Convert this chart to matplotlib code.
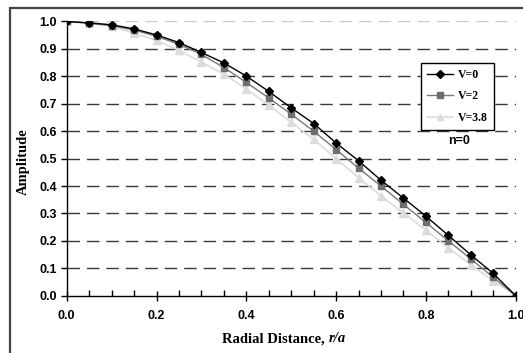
import matplotlib
matplotlib.use("Agg")
import matplotlib.pyplot as plt
from matplotlib.patches import Rectangle
from matplotlib.ticker import MultipleLocator

# radial positions and amplitude for each V
r = [0.0, 0.05, 0.1, 0.15, 0.2, 0.25, 0.3, 0.35, 0.4, 0.45, 0.5,
     0.55, 0.6, 0.65, 0.7, 0.75, 0.8, 0.85, 0.9, 0.95, 1.0]
amp_v0 = [1.0, 0.995, 0.988, 0.973, 0.951, 0.923, 0.887, 0.849, 0.801, 0.745, 0.685,
          0.628, 0.557, 0.492, 0.421, 0.356, 0.290, 0.220, 0.149, 0.081, 0.0]
amp_v2 = [1.0, 0.994, 0.985, 0.969, 0.946, 0.917, 0.880, 0.832, 0.778, 0.721, 0.662,
          0.600, 0.533, 0.465, 0.400, 0.333, 0.267, 0.200, 0.134, 0.067, 0.0]
amp_v38 = [1.0, 0.993, 0.982, 0.958, 0.931, 0.895, 0.852, 0.808, 0.754, 0.695, 0.632,
           0.570, 0.500, 0.431, 0.363, 0.302, 0.239, 0.175, 0.112, 0.055, 0.0]
labels = ["V=0", "V=2", "V=3.8"]

SANS = "Liberation Sans"
SERIF = "Liberation Serif"

fig = plt.figure(figsize=(5.23, 3.53), dpi=100)
ax = fig.add_axes([66.7 / 523, 1 - 295.7 / 353, (515.7 - 66.7) / 523, (295.7 - 21.5) / 353])

# outer chart frame (runs off the right / bottom edge)
fig.patches.append(Rectangle((10 / 523, -0.1), 1.2, 1 - 8 / 353 + 0.1, transform=fig.transFigure,
                             fill=False, edgecolor="#444444", linewidth=1.6, zorder=0))

ax.plot(r, amp_v38, color="#dcdcdc", lw=1.2, marker="^", ms=5.5, mfc="#dcdcdc", mec="#dcdcdc", label=labels[2], zorder=3)
ax.plot(r, amp_v2, color="#777777", lw=1.0, marker="s", ms=5, mfc="#6e6e6e", mec="#6e6e6e", label=labels[1], zorder=4)
ax.plot(r, amp_v0, color="black", lw=1.0, marker="D", ms=4.5, mfc="black", mec="black", label=labels[0], zorder=5)

ax.set_xlim(0, 1.0)
ax.set_ylim(0, 1.0)
ax.xaxis.set_major_locator(MultipleLocator(0.2))
ax.xaxis.set_minor_locator(MultipleLocator(0.05))
ax.yaxis.set_major_locator(MultipleLocator(0.1))
ax.xaxis.set_major_formatter(plt.FormatStrFormatter("%.1f"))
ax.yaxis.set_major_formatter(plt.FormatStrFormatter("%.1f"))

for s in ["top", "right"]:
    ax.spines[s].set_visible(False)
for s in ["left", "bottom"]:
    ax.spines[s].set_linewidth(1.0)
    ax.spines[s].set_color("black")

ax.tick_params(axis="x", which="major", direction="inout", length=7, width=1, pad=7)
ax.tick_params(axis="x", which="minor", direction="in", length=4, width=1)
ax.tick_params(axis="y", which="major", direction="out", length=4, width=1, pad=3)
for lab in ax.get_xticklabels() + ax.get_yticklabels():
    lab.set_fontfamily(SANS)
    lab.set_fontweight("bold")
    lab.set_fontsize(9)

# dashed grid, top line lighter
for yv in [0.1, 0.2, 0.3, 0.4, 0.5, 0.6, 0.7, 0.8, 0.9]:
    ax.axhline(yv, color="#3a3a3a", lw=1.0, dashes=(9, 5), zorder=1)
ax.axhline(1.0, color="#cccccc", lw=1.0, dashes=(9, 5), zorder=1)

# axis labels
fig.text(328 / 523, 1 - 339 / 353, "Radial Distance, ", ha="right", va="center",
         fontfamily=SERIF, fontweight="bold", fontsize=10.5)
fig.text(329 / 523, 1 - 339 / 353, "r/a", ha="left", va="center",
         fontfamily=SERIF, fontweight="bold", fontstyle="italic", fontsize=10.5)
fig.text(23 / 523, 1 - 162 / 353, "Amplitude", ha="center", va="center", rotation=90,
         fontfamily=SERIF, fontweight="bold", fontsize=10.5)

handles, labs = ax.get_legend_handles_labels()
leg = ax.legend(handles[::-1], labs[::-1], loc="upper left",
                bbox_to_anchor=((420.7 - 66.7) / 449, (295.7 - 62.3) / 274.5),
                frameon=True, fancybox=False, shadow=False, handlelength=2.2,
                borderpad=0.55, labelspacing=0.8, handletextpad=0.4, borderaxespad=0,
                markerscale=0.8,
                prop={"family": SERIF, "weight": "bold", "size": 8.5})
leg.get_frame().set_edgecolor("black")
leg.get_frame().set_linewidth(1.0)
leg.get_frame().set_facecolor("white")
leg.get_frame().set_alpha(1)
leg.set_zorder(6)

ax.text(0.873, 0.563, "n=0", ha="center", va="center", transform=ax.transAxes,
        fontfamily=SANS, fontweight="bold", fontsize=9, zorder=6,
        bbox=dict(facecolor="white", edgecolor="none", pad=1))

fig.savefig("out.png", dpi=100)
